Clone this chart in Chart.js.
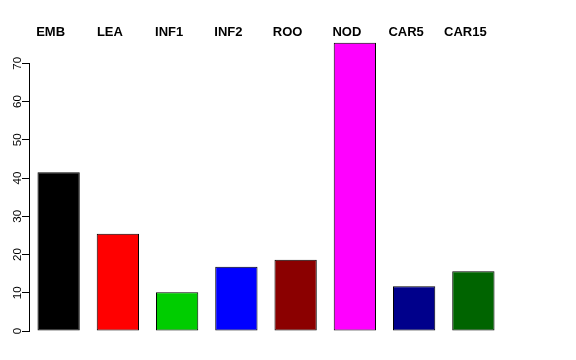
<!DOCTYPE html>
<html>
<head>
<meta charset="utf-8">
<script src="https://cdn.jsdelivr.net/npm/chart.js@4/dist/chart.umd.min.js"></script>
<style>
  body { margin: 0; background: #fff; }
  canvas { display: block; }
</style>
</head>
<body>
<canvas id="miGrafico" width="576" height="360"></canvas>
<script>
const categorias = ['EMB', 'LEA', 'INF1', 'INF2', 'ROO', 'NOD', 'CAR5', 'CAR15'];
const valores = [41.5, 25.4, 10.1, 16.8, 18.6, 75.4, 11.7, 15.6];
const colores = ['#000000', '#FF0000', '#00CD00', '#0000FF', '#8B0000', '#FF00FF', '#00008B', '#006400'];
const ticksY = [0, 10, 20, 30, 40, 50, 60, 70];

const ctx = document.getElementById('miGrafico').getContext('2d');
new Chart(ctx, {
  type: 'bar',
  data: {
    labels: categorias,
    datasets: [{
      data: valores,
      backgroundColor: colores,
      borderColor: '#000000',
      borderWidth: 1,
      borderSkipped: false,
      categoryPercentage: 1,
      barPercentage: 0.714,
      clip: false,
      xAxisID: 'x'
    }]
  },
  options: {
    responsive: false,
    animation: false,
    layout: { padding: { left: 0, right: 73, top: 0, bottom: 29 } },
    plugins: { legend: { display: false }, tooltip: { enabled: false } },
    scales: {
      x: {
        display: false,
        offset: true
      },
      x2: {
        type: 'category',
        labels: categorias,
        position: 'top',
        offset: true,
        grid: { display: false },
        border: { display: false },
        ticks: {
          color: '#000',
          padding: 15,
          labelOffset: -8,
          maxRotation: 0,
          autoSkip: false,
          font: { family: 'Liberation Sans, Arial, sans-serif', size: 13, weight: 'bold' }
        },
        afterFit: scale => { scale.height = 63.3; }
      },
      y: {
        min: 0,
        max: 70,
        afterBuildTicks: scale => { scale.ticks = ticksY.map(v => ({ value: v })); },
        grid: { display: true, drawOnChartArea: false, drawTicks: true, tickLength: 7, color: '#000' },
        border: { display: true, color: '#000', width: 1 },
        ticks: {
          color: '#000',
          padding: -2,
          minRotation: 90,
          maxRotation: 90,
          crossAlign: 'center',
          font: { family: 'Liberation Sans, Arial, sans-serif', size: 11.5 }
        },
        afterFit: scale => { scale.width = 29; }
      }
    }
  }
});
</script>
</body>
</html>
